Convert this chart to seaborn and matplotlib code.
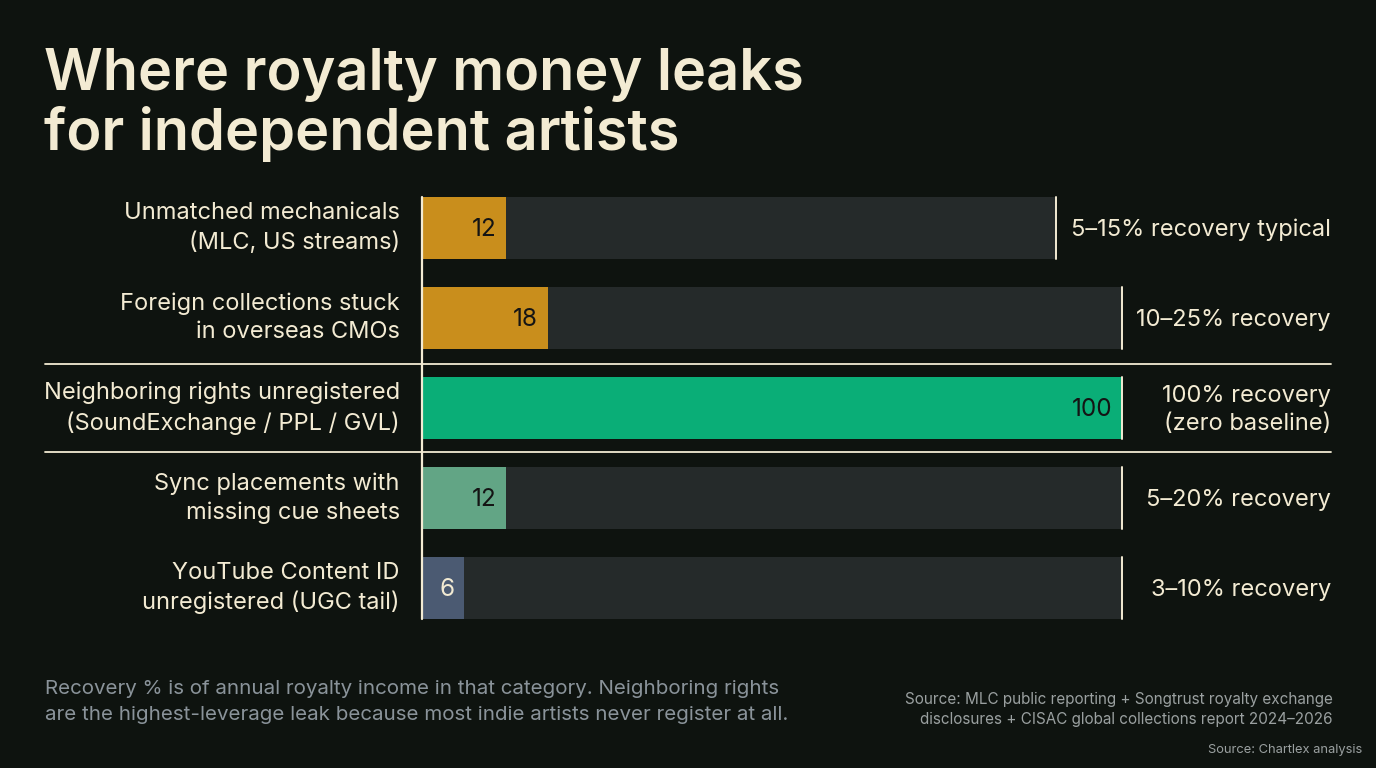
import matplotlib
matplotlib.use("Agg")
import matplotlib.pyplot as plt
from matplotlib.lines import Line2D
import seaborn as sns
import pandas as pd

categories = [
    "Unmatched mechanicals\n(MLC, US streams)",
    "Foreign collections stuck\nin overseas CMOs",
    "Neighboring rights unregistered\n(SoundExchange / PPL / GVL)",
    "Sync placements with\nmissing cue sheets",
    "YouTube Content ID\nunregistered (UGC tail)",
]
values = [12, 18, 100, 12, 6]
track_end = [90.5, 100, 100, 100, 100]
recovery_labels = [
    "5\u201315% recovery typical",
    "10\u201325% recovery",
    "100% recovery\n(zero baseline)",
    "5\u201320% recovery",
    "3\u201310% recovery",
]
bar_colors = ["#C98E1C", "#C98E1C", "#0AAE77", "#62A585", "#4B5A72"]
value_text_colors = ["#141414", "#141414", "#141414", "#141414", "#F2EAD3"]

BG = "#0E130F"
CREAM = "#F3EBD3"
TRACK = "#252A2A"

sns.set_theme(style="white")
plt.rcParams["font.family"] = ["Inter", "DejaVu Sans"]

df = pd.DataFrame({"cat": categories, "val": values, "track": track_end})

fig = plt.figure(figsize=(13.76, 7.68), dpi=100, facecolor=BG)
ax = fig.add_axes([422 / 1376, 1 - 633 / 768, 700 / 1376, 450 / 768])
ax.set_facecolor(BG)

BW = 0.69
sns.barplot(data=df, x="track", y="cat", orient="h", color=TRACK, width=BW,
            ax=ax, saturation=1, linewidth=0)
sns.barplot(data=df, x="val", y="cat", hue="cat", palette=bar_colors, orient="h",
            width=BW, ax=ax, saturation=1, linewidth=0, legend=False)

ax.set_xlim(0, 100)
ax.set_ylim(len(categories) - 0.5, -0.5)
for s in ax.spines.values():
    s.set_visible(False)
ax.set_xticks([])
ax.set_yticks([])
ax.set_xlabel("")
ax.set_ylabel("")

ax.plot([0, 0], [-BW / 2, len(categories) - 1 + BW / 2], color=CREAM, lw=1.6,
        clip_on=False, zorder=5)

for i, (v, t, lab, tc) in enumerate(zip(values, track_end, recovery_labels, value_text_colors)):
    ax.plot([t, t], [i - BW / 2, i + BW / 2], color=CREAM, lw=1.4, clip_on=False, zorder=5)
    ax.text(v - 1.4, i + 0.02, str(v), ha="right", va="center", fontsize=17.5, color=tc, zorder=6)
    ax.annotate(categories[i], xy=(0, i), xycoords="data", xytext=(-16, 0),
                textcoords="offset points", ha="right", va="center", fontsize=17,
                color=CREAM, linespacing=1.38, annotation_clip=False)
    ax.annotate(lab, xy=(1331 / 1376, i + 0.02), xycoords=("figure fraction", "data"),
                ha="right", va="center", fontsize=17, color=CREAM, linespacing=1.38,
                multialignment="right", annotation_clip=False)

for ypix in (364, 452):
    yf = 1 - ypix / 768
    fig.add_artist(Line2D([45 / 1376, 1331 / 1376], [yf, yf], color=CREAM, lw=1.3,
                          transform=fig.transFigure))

fig.text(44 / 1376, 1 - 48 / 768, "Where royalty money leaks\nfor independent artists",
         ha="left", va="top", fontsize=41.5, color=CREAM, fontweight="semibold",
         linespacing=1.1)

fig.text(45 / 1376, 1 - 680 / 768,
         "Recovery % is of annual royalty income in that category. Neighboring rights\n"
         "are the highest-leverage leak because most indie artists never register at all.",
         ha="left", va="top", fontsize=14.8, color="#8A939A", linespacing=1.6)

fig.text(1333 / 1376, 1 - 692 / 768,
         "Source: MLC public reporting + Songtrust royalty exchange\n"
         "disclosures + CISAC global collections report 2024\u20132026",
         ha="right", va="top", fontsize=11, color="#9AA0A0", linespacing=1.4,
         multialignment="right")
fig.text(1362 / 1376, 1 - 744 / 768, "Source: Chartlex analysis",
         ha="right", va="top", fontsize=9.3, color="#9AA0A0")

fig.savefig("out.png", dpi=100, facecolor=BG)
